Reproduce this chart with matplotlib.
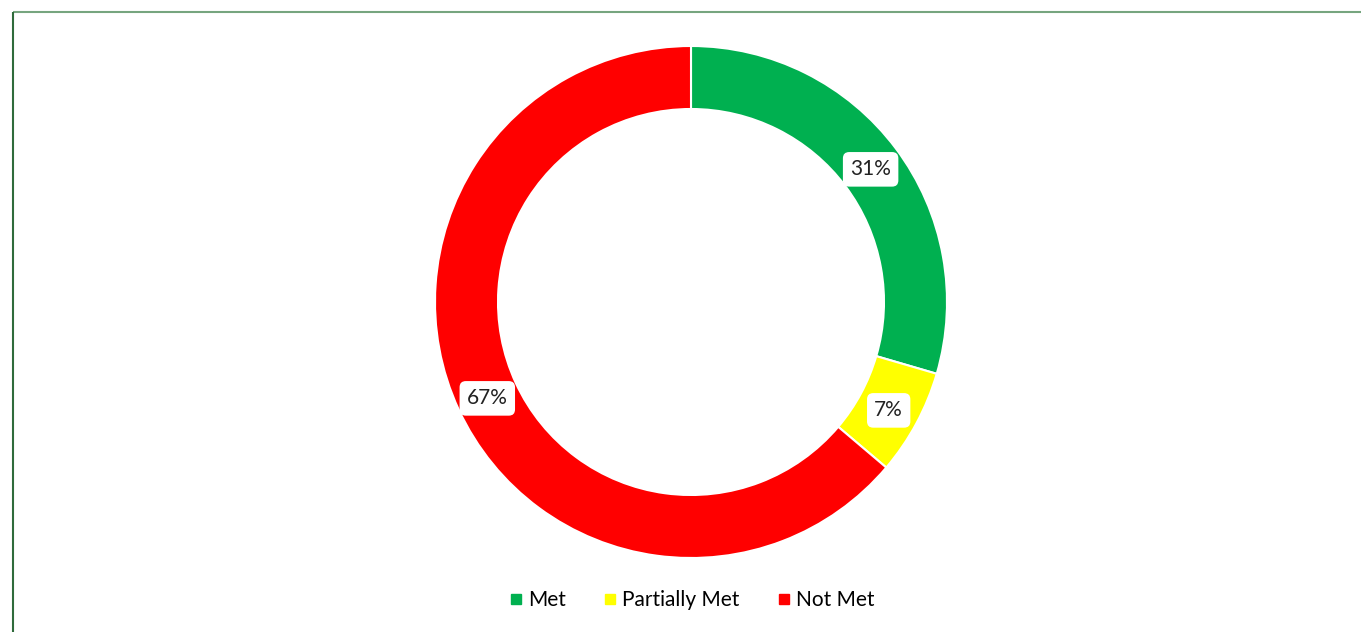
import matplotlib
matplotlib.use("Agg")
import matplotlib.pyplot as plt
from matplotlib.lines import Line2D
import numpy as np

categories = ["Met", "Partially Met", "Not Met"]
values = [31, 7, 67]
colors = ["#00B050", "#FFFF00", "#FF0000"]

W, H = 1361, 632
fig = plt.figure(figsize=(W / 100, H / 100), dpi=100)
ax = fig.add_axes([0, 0, 1, 1])

cx, cy, r, ring = 691, H - 302, 256, 63
ax.pie(
    values, colors=colors, startangle=90, counterclock=False,
    radius=r, center=(cx, cy), frame=True,
    wedgeprops=dict(width=ring, edgecolor="white", linewidth=1.5),
)
ax.set_xlim(0, W)
ax.set_ylim(0, H)
ax.set_aspect("equal")
ax.axis("off")

# value labels at the middle of the ring
total = sum(values)
start = 90.0
mid_r = r - ring / 2
for v in values:
    span = 360.0 * v / total
    ang = np.deg2rad(start - span / 2)
    start -= span
    ax.text(cx + mid_r * np.cos(ang), cy + mid_r * np.sin(ang) - 2, f"{v}%",
            ha="center", va="center", fontsize=15, family="Lato", color="#222222",
            bbox=dict(boxstyle="round,pad=0.35,rounding_size=0.3", fc="white", ec="none"))

handles = [Line2D([], [], marker="s", linestyle="none", markersize=7,
                  markerfacecolor=c, markeredgecolor=c) for c in colors]
ax.legend(handles, categories, loc="center", bbox_to_anchor=(cx / W, 32 / H),
          ncol=3, frameon=False, prop=dict(family="Lato", size=15),
          handletextpad=0.15, columnspacing=1.75, handlelength=0.8)

# frame lines
ax.plot([13, W], [H - 12, H - 12], color="#76a57f", lw=1.5, solid_capstyle="butt")
ax.plot([13, 13], [0, H - 12], color="#2f6b3b", lw=1.5, solid_capstyle="butt")

fig.savefig("out.png", dpi=100)
